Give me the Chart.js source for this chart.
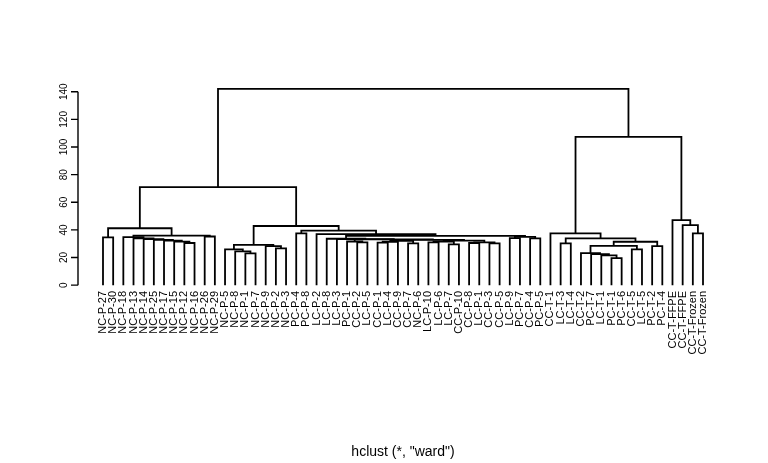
<!DOCTYPE html>
<html><head><meta charset="utf-8">
<script src="https://cdn.jsdelivr.net/npm/chart.js@4"></script>
<style>html,body{margin:0;padding:0;background:#fff}</style>
</head><body>
<canvas id="c" width="768" height="463"></canvas>
<script>
// Leaf labels in dendrogram order
const leafLabels = ["NC-P-27","NC-P-30","NC-P-18","NC-P-13","NC-P-14","NC-P-25","NC-P-17","NC-P-15","NC-P-12","NC-P-16",
  "NC-P-26","NC-P-29","NC-P-5","NC-P-8","NC-P-1","NC-P-7","NC-P-9","NC-P-2","NC-P-3","PC-P-4",
  "PC-P-8","LC-P-2","LC-P-8","LC-P-3","PC-P-1","CC-P-2","LC-P-5","CC-P-1","LC-P-4","CC-P-9",
  "CC-P-7","NC-P-6","LC-P-10","LC-P-6","LC-P-7","CC-P-10","CC-P-8","LC-P-1","CC-P-3","CC-P-5",
  "LC-P-9","PC-P-7","CC-P-4","PC-P-5","CC-T-1","LC-T-3","LC-T-4","CC-T-2","PC-T-7","LC-T-1",
  "PC-T-1","PC-T-6","CC-T-5","LC-T-5","PC-T-2","PC-T-4","CC-T-FFPE","CC-T-FFPE","CC-T-Frozen","CC-T-Frozen"];
// Merge table (hclust style): negative = leaf position, positive = earlier merge row
const mergeLeft  = [-15,-14,-13,-18,-17,3,-9,-8,-7,-6,-5,-4,-3,-11,13,-1,16,-20,
  -26,-25,-28,21,-31,22,-33,-35,25,-37,-39,28,27,24,20,-24,-23,-41,-43,36,35,-22,18,6,17,
  -51,-50,-49,-48,-53,47,-55,49,-46,52,-45,-59,-58,-57,54,43];
const mergeRight = [-16,1,2,-19,4,5,-10,7,8,9,10,11,12,-12,14,-2,15,-21,
  -27,19,-29,-30,-32,23,-34,-36,26,-38,-40,29,30,31,32,33,34,-42,-44,37,38,39,40,41,42,
  -52,44,45,46,-54,48,-56,50,-47,51,53,-60,55,56,57,58];
const mergeHeights = [23.0,24.4,25.9,26.6,28.3,29.2,30.5,31.5,32.2,32.8,33.3,33.8,34.8,35.2,35.8,34.6,41.2,37.5,
  31.0,31.6,30.8,31.4,30.2,32.0,31.0,29.5,31.6,30.5,30.3,31.0,32.3,32.8,33.1,33.3,33.6,34.0,33.8,35.0,35.7,37.0,39.4,42.8,71.0,
  19.5,21.5,22.5,23.2,25.9,28.5,28.3,31.4,30.2,33.8,37.5,37.5,43.5,47.1,107.3,142.1];
const yTicks = [0,20,40,60,80,100,120,140];
const subTitle = 'hclust (*, "ward")';

const nLeaves = leafLabels.length;
const nodeX = [], nodeH = [];
function ref(r){ return r < 0 ? {x: -r, h: 0} : {x: nodeX[r-1], h: nodeH[r-1]}; }
const datasets = [];
for (let k = 0; k < mergeHeights.length; k++) {
  const a = ref(mergeLeft[k]), b = ref(mergeRight[k]), h = mergeHeights[k];
  nodeX.push((a.x + b.x) / 2); nodeH.push(h);
  datasets.push({
    data: [{x:a.x,y:a.h},{x:a.x,y:h},{x:b.x,y:h},{x:b.x,y:b.h}],
    showLine: true, borderColor: '#000', borderWidth: 1.8, pointRadius: 0,
    tension: 0, fill: false, borderJoinStyle: 'miter', borderCapStyle: 'butt'
  });
}
const maxH = Math.max(...mergeHeights);
const FONT = '"Liberation Sans", Arial, Helvetica, sans-serif';

const decor = {
  id: 'decor',
  afterDraw(chart) {
    const ctx = chart.ctx, xs = chart.scales.x, ys = chart.scales.y, ca = chart.chartArea;
    ctx.save();
    ctx.strokeStyle = '#000'; ctx.fillStyle = '#000'; ctx.lineWidth = 1.4;
    const ax = ca.left - 1;
    // y axis line & ticks
    ctx.beginPath();
    ctx.moveTo(ax, ys.getPixelForValue(yTicks[0]));
    ctx.lineTo(ax, ys.getPixelForValue(yTicks[yTicks.length-1]));
    yTicks.forEach(t => { const p = ys.getPixelForValue(t); ctx.moveTo(ax, p); ctx.lineTo(ax - 7, p); });
    ctx.stroke();
    ctx.font = '10px ' + FONT; ctx.textAlign = 'center'; ctx.textBaseline = 'middle';
    yTicks.forEach(t => {
      const p = ys.getPixelForValue(t);
      ctx.save(); ctx.translate(ax - 14, p); ctx.rotate(-Math.PI/2); ctx.fillText(String(t), 0, 0); ctx.restore();
    });
    // leaf labels
    ctx.font = '11px ' + FONT; ctx.textAlign = 'right'; ctx.textBaseline = 'middle';
    leafLabels.forEach((lab, i) => {
      const px = xs.getPixelForValue(i + 1);
      ctx.save(); ctx.translate(px, ca.bottom - 2); ctx.rotate(-Math.PI/2); ctx.fillText(lab, 0, 0); ctx.restore();
    });
    // sub title
    ctx.font = '14px ' + FONT; ctx.textAlign = 'center'; ctx.textBaseline = 'middle';
    ctx.fillText(subTitle, (ca.left + ca.right) / 2, 452);
    ctx.restore();
  }
};

new Chart(document.getElementById('c'), {
  type: 'scatter',
  data: { datasets },
  options: {
    responsive: false, animation: false, events: [],
    layout: { padding: { left: 79, right: 41, top: 81, bottom: 170 } },
    plugins: { legend: { display: false }, tooltip: { enabled: false } },
    scales: {
      x: { type: 'linear', display: false, min: 1 - 0.04*(nLeaves-1), max: nLeaves + 0.04*(nLeaves-1) },
      y: { type: 'linear', display: false, min: -0.04*maxH, max: maxH*1.04 }
    }
  },
  plugins: [decor]
});
</script>
</body></html>
